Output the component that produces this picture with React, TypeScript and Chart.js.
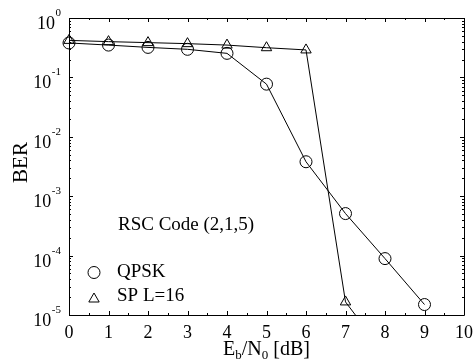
import React, { useEffect, useRef } from "react";
import { Chart, registerables } from "chart.js";

Chart.register(...registerables);

const ebn0Qpsk = [0, 1, 2, 3, 4, 5, 6, 7, 8, 9];
const berQpsk = [0.38, 0.35, 0.32, 0.297, 0.254, 0.077, 0.0038, 5.1e-4, 8.9e-5, 1.5e-5];
const ebn0Sp = [0, 1, 2, 3, 4, 5, 6, 7, 8];
const berSp = [0.42, 0.4, 0.385, 0.37, 0.35, 0.316, 0.29, 1.66e-5, 2.2e-6];
const xTicks = [0, 1, 2, 3, 4, 5, 6, 7, 8, 9, 10];
const yExponents = [0, -1, -2, -3, -4, -5];
const legendLabels = ["QPSK", "SP L=16"];
const annotation = "RSC Code (2,1,5)";

const FONT = '"Liberation Serif", "Times New Roman", serif';

const framePlugin = {
  id: "frame",
  afterDraw(chart: any) {
    const ctx = chart.ctx as CanvasRenderingContext2D;
    const { left, right, top, bottom } = chart.chartArea;
    const xs = chart.scales.x;
    const ys = chart.scales.y;
    ctx.save();
    ctx.strokeStyle = "#000";
    ctx.lineWidth = 1;
    ctx.beginPath();
    ctx.rect(Math.round(left) + 0.5, Math.round(top) + 0.5, Math.round(right - left), Math.round(bottom - top));
    ctx.stroke();

    // x ticks
    ctx.beginPath();
    for (let v = 0; v <= 10.001; v += 0.5) {
      const px = Math.round(xs.getPixelForValue(v)) + 0.5;
      const len = Math.abs(v - Math.round(v)) < 1e-6 ? 4 : 2;
      ctx.moveTo(px, bottom);
      ctx.lineTo(px, bottom - len);
      ctx.moveTo(px, top);
      ctx.lineTo(px, top + len);
    }
    // y ticks
    for (let e = -5; e <= 0; e++) {
      for (let m = 1; m <= 9; m++) {
        if (e === 0 && m > 1) break;
        const val = m * Math.pow(10, e);
        const py = Math.round(ys.getPixelForValue(val)) + 0.5;
        const len = m === 1 ? 4 : 2;
        ctx.moveTo(left, py);
        ctx.lineTo(left + len, py);
        ctx.moveTo(right, py);
        ctx.lineTo(right - len, py);
      }
    }
    ctx.stroke();

    // x tick labels
    ctx.fillStyle = "#000";
    ctx.font = `18px ${FONT}`;
    ctx.textAlign = "center";
    ctx.textBaseline = "alphabetic";
    xTicks.forEach((t) => {
      ctx.fillText(String(t), xs.getPixelForValue(t), 338);
    });

    // y tick labels with superscripts
    yExponents.forEach((e) => {
      const py = ys.getPixelForValue(Math.pow(10, e));
      const sup = String(e);
      ctx.font = `11px ${FONT}`;
      const supW = ctx.measureText(sup).width;
      ctx.textAlign = "right";
      ctx.fillText(sup, 61, py - 2);
      ctx.font = `18px ${FONT}`;
      ctx.fillText("10", 61 - supW - 0.5, py + 11);
    });

    // y title
    ctx.save();
    ctx.translate(27, 162.5);
    ctx.rotate(-Math.PI / 2);
    ctx.font = `21px ${FONT}`;
    ctx.textAlign = "center";
    ctx.fillText("BER", 0, 0);
    ctx.restore();

    // x title with subscripts
    const parts: [string, boolean][] = [["E", false], ["b", true], ["/N", false], ["0", true], [" [dB]", false]];
    let total = 0;
    parts.forEach(([s, sub]) => {
      ctx.font = sub ? `13px ${FONT}` : `20px ${FONT}`;
      total += ctx.measureText(s).width;
    });
    let cx = (left + right) / 2 - total / 2;
    ctx.textAlign = "left";
    parts.forEach(([s, sub]) => {
      ctx.font = sub ? `13px ${FONT}` : `20px ${FONT}`;
      ctx.fillText(s, cx, sub ? 359 : 355);
      cx += ctx.measureText(s).width;
    });

    // annotation and legend
    ctx.font = `19px ${FONT}`;
    ctx.fillText(annotation, 118, 230);
    ctx.fillText(legendLabels[0], 117, 277);
    ctx.fillText(legendLabels[1], 117, 301);
    ctx.beginPath();
    ctx.arc(94, 272.5, 6, 0, Math.PI * 2);
    ctx.stroke();
    const r = 6;
    const ty = 299;
    ctx.beginPath();
    ctx.moveTo(94, ty - r);
    ctx.lineTo(94 + r * Math.sin((2 * Math.PI) / 3), ty - r * Math.cos((2 * Math.PI) / 3));
    ctx.lineTo(94 + r * Math.sin((4 * Math.PI) / 3), ty - r * Math.cos((4 * Math.PI) / 3));
    ctx.closePath();
    ctx.stroke();
    ctx.restore();
  },
};

export default function App() {
  const ref = useRef<HTMLCanvasElement>(null);
  useEffect(() => {
    document.body.style.margin = "0";
    const chart = new Chart(ref.current as HTMLCanvasElement, {
      type: "line",
      data: {
        datasets: [
          {
            label: legendLabels[0],
            data: ebn0Qpsk.map((x, i) => ({ x, y: berQpsk[i] })),
            borderColor: "#000",
            borderWidth: 1,
            pointStyle: "circle",
            pointRadius: 6,
            pointBorderColor: "#000",
            pointBackgroundColor: "rgba(0,0,0,0)",
            pointBorderWidth: 1,
            clip: { left: 10, top: 10, right: 10, bottom: 0 },
          } as any,
          {
            label: legendLabels[1],
            data: ebn0Sp.map((x, i) => ({ x, y: berSp[i] })),
            borderColor: "#000",
            borderWidth: 1,
            pointStyle: "triangle",
            pointRadius: 6,
            pointBorderColor: "#000",
            pointBackgroundColor: "rgba(0,0,0,0)",
            pointBorderWidth: 1,
            clip: { left: 10, top: 10, right: 10, bottom: 0 },
          } as any,
        ],
      },
      options: {
        animation: false,
        responsive: false,
        maintainAspectRatio: false,
        layout: { padding: { left: 69, right: 9, top: 18, bottom: 47 } },
        plugins: { legend: { display: false }, tooltip: { enabled: false } },
        scales: {
          x: { type: "linear", min: 0, max: 10, display: false },
          y: { type: "logarithmic", min: 1e-5, max: 1, display: false },
        },
      },
      plugins: [framePlugin],
    });
    return () => chart.destroy();
  }, []);
  return (
    <div style={{ width: 473, height: 362, background: "#fff" }}>
      <canvas ref={ref} width={473} height={362} style={{ display: "block" }} />
    </div>
  );
}
